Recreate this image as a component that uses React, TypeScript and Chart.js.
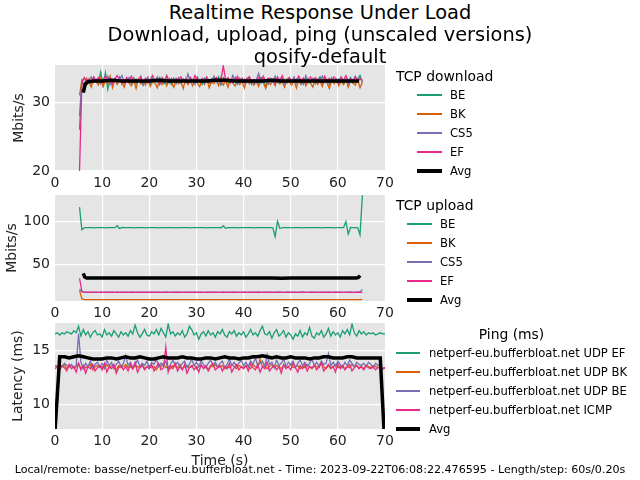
import React, { useEffect, useRef } from "react";
import { Chart, registerables } from "chart.js";
Chart.register(...registerables);

const FONT = "'DejaVu Sans', sans-serif";
const TXT = "#222222";
const COLORS = ["#1b9e77", "#d95f02", "#7570b3", "#e7298a"];
const X_TICKS = [0, 10, 20, 30, 40, 50, 60, 70];

// ---------- TCP download (Mbits/s), sampled every 0.5 s from 5.2 s ----------
const DL_START = 5.2;
const DL_STEP = 0.5;
const dlBE = [
  26.0, 33.0, 32.7, 33.4, 33.1, 32.8, 33.6, 33.2, 32.9, 34.4,
  32.5, 34.3, 31.9, 33.5, 32.8, 33.3, 33.0, 33.7, 32.6, 33.2,
  33.4, 32.9, 33.1, 33.6, 32.7, 33.3, 33.0, 32.5, 33.4, 33.2,
  32.8, 33.5, 33.1, 32.9, 33.6, 33.0, 32.7, 33.3, 33.2, 32.6,
  33.5, 33.0, 33.3, 32.8, 33.4, 33.1, 32.7, 33.6, 33.2, 32.9,
  33.3, 33.0, 32.6, 33.5, 33.1, 32.8, 33.4, 33.2, 32.9, 33.7,
  32.5, 33.1, 33.4, 32.8, 33.3, 33.0, 33.6, 32.7, 33.2, 33.4,
  32.9, 33.1, 33.5, 32.6, 33.3, 33.0, 32.8, 33.6, 33.2, 32.3,
  33.4, 33.1, 32.9, 33.5, 33.0, 32.7, 33.3, 33.2, 32.8, 33.6,
  33.1, 32.9, 33.4, 33.0, 32.6, 33.3, 33.5, 32.8, 33.1, 33.4,
  32.9, 33.2, 33.7, 32.7, 33.0, 33.3, 32.8, 33.5, 33.1, 32.9,
  33.4, 33.2, 32.6, 33.3, 33.0, 33.6, 32.8, 33.2, 33.4, 33.9,
  32.9,
];
const dlBK = [
  31.0, 33.2, 32.4, 33.5, 32.9, 32.2, 33.4, 33.0, 32.5, 33.6,
  32.3, 33.1, 32.7, 33.8, 32.1, 33.3, 32.6, 33.4, 32.9, 32.2,
  33.5, 32.8, 32.4, 33.2, 32.0, 33.4, 32.7, 33.1, 32.5, 33.6,
  32.3, 33.0, 32.8, 32.1, 33.4, 32.6, 33.2, 32.4, 33.5, 32.9,
  32.2, 33.3, 32.7, 33.0, 32.0, 33.4, 32.6, 33.1, 32.4, 33.5,
  32.8, 32.3, 33.2, 32.6, 33.4, 32.1, 33.0, 32.7, 33.3, 32.4,
  33.6, 32.5, 33.1, 32.2, 33.3, 32.8, 32.4, 33.5, 32.6, 33.0,
  32.1, 33.4, 32.7, 33.2, 32.5, 33.0, 32.3, 33.5, 32.8, 32.0,
  33.3, 32.6, 33.1, 32.4, 33.6, 32.7, 33.0, 32.2, 33.4, 32.9,
  32.5, 33.2, 32.1, 33.3, 32.7, 33.5, 32.4, 33.0, 32.8, 32.2,
  33.4, 32.6, 33.1, 32.3, 33.5, 32.8, 32.0, 33.2, 32.7, 33.3,
  32.4, 33.0, 32.6, 33.4, 32.2, 33.1, 32.8, 32.5, 33.3, 32.1,
  32.9,
];
const dlCS5 = [
  28.0, 33.1, 33.5, 32.8, 33.3, 33.7, 32.9, 33.2, 33.6, 32.7,
  33.4, 33.0, 33.8, 32.6, 33.2, 33.5, 32.9, 33.3, 33.9, 32.8,
  33.1, 33.6, 32.7, 33.4, 33.0, 33.2, 33.8, 32.5, 33.3, 33.6,
  32.9, 33.4, 33.1, 33.7, 32.6, 33.3, 33.0, 33.9, 32.8, 33.5,
  33.2, 32.7, 33.6, 33.1, 33.4, 32.9, 34.1, 33.0, 33.3, 32.6,
  33.7, 33.1, 33.4, 32.8, 33.5, 33.2, 32.9, 33.8, 33.0, 33.4,
  32.7, 33.6, 33.1, 33.3, 32.8, 33.9, 33.2, 32.6, 33.5, 33.0,
  33.4, 32.9, 33.7, 33.1, 32.7, 33.3, 34.2, 32.8, 33.4, 33.1,
  32.6, 33.5, 33.0, 33.8, 32.9, 33.3, 33.6, 32.7, 33.2, 33.5,
  33.0, 33.7, 32.8, 33.4, 33.1, 32.6, 33.9, 33.2, 33.0, 33.5,
  32.7, 33.4, 33.1, 33.8, 32.9, 33.3, 32.6, 33.6, 33.1, 33.4,
  32.8, 33.7, 33.0, 33.3, 32.7, 33.5, 33.2, 33.8, 33.0, 33.4,
  33.2,
];
const dlEF = [
  20.0, 32.9, 33.6, 33.1, 33.4, 32.8, 33.7, 33.2, 33.5, 32.9,
  33.3, 33.8, 33.0, 33.5, 32.7, 33.4, 33.9, 33.1, 33.3, 32.8,
  33.6, 33.2, 33.8, 32.9, 33.4, 33.1, 33.7, 33.0, 33.5, 32.8,
  33.3, 33.9, 33.1, 33.4, 32.7, 33.6, 33.2, 33.8, 33.0, 33.4,
  32.9, 33.5, 33.2, 33.7, 33.0, 33.4, 32.8, 33.6, 33.1, 33.9,
  33.3, 32.9, 33.5, 33.2, 33.7, 32.8, 33.4, 33.1, 33.6, 33.0,
  33.3, 35.3, 33.2, 33.6, 32.9, 33.4, 33.1, 33.8, 33.0, 33.5,
  32.8, 33.4, 33.7, 33.1, 33.3, 32.9, 33.6, 33.2, 33.8, 33.0,
  33.5, 33.1, 33.4, 32.7, 33.7, 33.2, 33.9, 33.0, 33.3, 33.6,
  32.9, 33.4, 33.1, 33.8, 33.2, 33.5, 32.8, 33.3, 33.7, 33.0,
  33.6, 33.2, 33.4, 32.9, 33.8, 33.1, 33.5, 33.0, 33.7, 33.3,
  32.8, 33.6, 33.2, 33.9, 33.1, 33.4, 33.0, 33.7, 33.2, 33.5,
  33.1,
];
const dlAvgTime = [
  6.0, 6.4, 7.0,
  8, 10, 12, 14, 16, 18, 20, 22, 24, 26, 28, 30, 32, 34, 36,
  38, 40, 42, 44, 46, 48, 50, 52, 54, 56, 58, 60, 62, 64,
  64.5,
];
const dlAvg = [
  31.4, 32.6, 33.0,
  33.1, 33.1, 33.2, 33.1, 33.1, 33.1, 33.1, 33.2, 33.1, 33.1, 33.1, 33.1, 33.1, 33.2, 33.2,
  33.1, 33.1, 33.1, 33.1, 33.2, 33.1, 33.1, 33.1, 33.1, 33.1, 33.1, 33.1, 33.1, 33.1,
  33.1,
];
const dlYTicks = [20, 30];

// ---------- TCP upload (Mbits/s), sampled every 0.5 s from 5.2 s ----------
const UL_START = 5.2;
const UL_STEP = 0.5;
const ulBE = [
  117.0, 90.5, 92.8, 93.0, 92.9, 93.1, 92.8, 93.0, 93.1, 92.9,
  93.0, 92.8, 93.1, 93.0, 92.9, 93.0, 95.2, 91.8, 93.2, 93.0,
  92.9, 93.1, 93.0, 92.8, 93.0, 93.1, 92.9, 93.0, 92.8, 93.1,
  93.0, 92.9, 93.0, 93.1, 92.8, 93.0, 92.9, 93.1, 93.0, 92.9,
  93.0, 92.8, 93.1, 93.0, 92.9, 93.0, 93.1, 92.8, 93.0, 92.9,
  93.1, 93.0, 92.9, 93.0, 92.8, 93.1, 93.0, 92.9, 93.0, 93.1,
  92.9, 95.0, 92.2, 93.0, 92.9, 93.1, 93.0, 92.8, 93.0, 92.9,
  93.1, 93.0, 92.9, 93.0, 92.8, 93.1, 93.0, 92.9, 93.0, 93.1,
  92.9, 93.0, 92.8, 82.5, 100.5, 92.0, 93.0, 92.9, 93.1, 93.0,
  92.8, 93.0, 93.1, 92.9, 93.0, 92.8, 93.1, 93.0, 92.9, 93.0,
  93.1, 92.9, 93.0, 92.8, 93.0, 93.1, 92.9, 93.0, 92.8, 93.1,
  93.0, 92.9, 93.0, 100.2, 85.5, 93.1, 92.9, 93.0, 92.8, 84.6,
  131.0,
];
const ulBK = [
  19.0, 9.6, 8.6, 8.4, 8.5, 8.4, 8.4, 8.5, 8.4, 8.4,
  8.5, 8.4, 8.4, 8.5, 8.4, 8.5, 8.4, 8.4, 8.5, 8.4,
  8.4, 8.5, 8.4, 8.4, 8.5, 8.4, 8.4, 8.5, 8.4, 8.5,
  8.4, 8.4, 8.5, 8.4, 8.4, 8.5, 8.4, 8.5, 8.4, 8.4,
  8.5, 8.4, 8.4, 8.5, 8.4, 8.4, 8.5, 8.4, 8.5, 8.4,
  8.4, 8.5, 8.4, 8.4, 8.5, 8.4, 8.5, 8.4, 8.4, 8.5,
  8.4, 8.4, 8.5, 8.4, 8.5, 8.4, 8.4, 8.5, 8.4, 8.4,
  8.5, 8.4, 8.4, 8.5, 8.4, 8.5, 8.4, 8.4, 8.5, 8.4,
  8.4, 8.5, 8.4, 8.4, 8.5, 8.4, 8.5, 8.4, 8.4, 8.5,
  8.4, 8.4, 8.5, 8.4, 8.5, 8.4, 8.4, 8.5, 8.4, 8.4,
  8.5, 8.4, 8.4, 8.5, 8.4, 8.5, 8.4, 8.4, 8.5, 8.4,
  8.4, 8.5, 8.4, 8.4, 8.5, 8.4, 8.5, 8.4, 8.4, 8.5,
  8.7,
];
const ulCS5 = [
  21.0, 17.6, 17.2, 17.1, 17.3, 17.1, 17.0, 17.2, 17.1, 17.3,
  17.0, 17.2, 17.1, 17.3, 17.1, 17.0, 17.2, 17.1, 17.3, 17.2,
  17.0, 17.1, 17.3, 17.2, 17.0, 17.1, 17.2, 17.3, 17.1, 17.0,
  17.2, 17.1, 17.3, 17.0, 17.2, 17.1, 17.1, 17.3, 17.0, 17.2,
  17.1, 17.3, 17.2, 17.0, 17.1, 17.2, 17.3, 17.1, 17.0, 17.2,
  17.1, 17.3, 17.1, 17.0, 17.2, 17.1, 17.3, 17.2, 17.0, 17.1,
  17.2, 17.4, 17.1, 17.0, 17.2, 17.1, 17.3, 17.0, 17.2, 17.1,
  17.3, 17.1, 17.0, 17.2, 17.1, 17.3, 17.2, 17.0, 17.1, 17.2,
  17.3, 17.1, 17.0, 17.2, 17.1, 17.3, 17.1, 17.0, 17.2, 17.1,
  17.3, 17.2, 17.0, 17.1, 17.2, 17.3, 17.1, 17.0, 17.2, 17.1,
  17.3, 17.1, 17.0, 17.2, 17.1, 17.3, 17.2, 17.0, 17.1, 17.2,
  17.3, 17.1, 17.0, 17.2, 17.1, 17.3, 17.1, 17.2, 17.4, 17.6,
  20.5,
];
const ulEF = [
  33.5, 18.5, 17.4, 17.2, 17.0, 17.3, 17.1, 17.2, 17.0, 17.3,
  17.1, 17.2, 17.3, 17.0, 17.2, 17.1, 17.4, 17.0, 17.2, 17.1,
  17.3, 17.0, 17.2, 17.1, 17.3, 17.2, 17.0, 17.1, 17.3, 17.2,
  17.0, 17.2, 17.1, 17.3, 17.1, 17.0, 17.2, 17.3, 17.1, 17.0,
  17.2, 17.1, 17.3, 17.1, 17.2, 17.0, 17.1, 17.3, 17.2, 17.0,
  17.2, 17.1, 17.3, 17.0, 17.1, 17.2, 17.1, 17.3, 17.2, 17.0,
  17.1, 17.3, 17.0, 17.2, 17.1, 17.3, 17.2, 17.0, 17.1, 17.2,
  17.4, 17.1, 17.2, 17.0, 17.3, 17.1, 17.2, 17.0, 17.2, 17.1,
  17.3, 17.2, 17.0, 17.1, 17.3, 17.2, 17.1, 17.0, 17.2, 17.3,
  17.1, 17.0, 17.2, 17.1, 17.3, 17.2, 17.0, 17.1, 17.2, 17.3,
  17.1, 17.0, 17.2, 17.1, 17.3, 17.1, 17.2, 17.0, 17.2, 17.1,
  17.3, 17.2, 17.0, 17.1, 17.2, 17.3, 17.1, 17.0, 17.2, 17.1,
  17.3,
];
const ulAvgTime = [
  6.0, 6.3, 6.7,
  8, 10, 12, 14, 16, 18, 20, 22, 24, 26, 28, 30, 32, 34, 36,
  38, 40, 42, 44, 46, 48, 50, 52, 54, 56, 58, 60, 62, 64,
  64.4, 64.7,
];
const ulAvg = [
  39.4, 35.0, 33.9,
  33.8, 33.8, 33.8, 33.9, 33.8, 33.8, 33.8, 33.8, 33.8, 33.8, 33.8, 33.8, 33.8, 33.8, 33.9,
  33.8, 33.8, 33.8, 33.8, 33.8, 33.6, 34.0, 33.8, 33.8, 33.8, 33.8, 33.8, 33.9, 33.8,
  34.6, 36.8,
];
const ulYTicks = [50, 100];

// ---------- Ping (ms), sampled every 0.5 s from 0 s ----------
const PING_START = 0;
const PING_STEP = 0.5;
const pingUdpEF = [
  16.5, 16.6, 16.4, 16.6, 16.5, 16.7, 16.6, 16.5, 16.8, 16.6,
  17.2, 16.3, 16.9, 16.4, 16.7, 16.2, 16.6, 16.8, 16.4, 16.5,
  16.2, 16.9, 16.4, 16.6, 16.3, 16.8, 16.5, 16.2, 16.7, 16.4,
  16.6, 16.3, 16.8, 16.5, 17.3, 16.6, 16.2, 16.5, 16.9, 16.4,
  16.3, 16.7, 16.5, 16.9, 16.4, 17.0, 16.6, 16.2, 17.4, 16.5,
  16.7, 16.3, 16.6, 16.4, 16.8, 16.2, 16.5, 17.2, 16.9, 16.4,
  16.6, 16.0, 16.5, 16.7, 16.3, 16.8, 16.4, 16.6, 16.2, 16.7,
  16.5, 16.9, 16.4, 16.2, 16.7, 16.5, 16.8, 16.3, 16.6, 16.4,
  16.7, 16.2, 16.5, 16.9, 16.4, 16.6, 16.3, 16.8, 17.2, 16.5,
  16.4, 16.7, 16.1, 16.6, 16.9, 16.3, 16.5, 16.8, 16.2, 16.6,
  16.4, 16.0, 16.5, 16.3, 16.8, 16.2, 16.6, 16.4, 17.1, 16.3,
  16.1, 16.6, 16.4, 16.8, 16.2, 16.5, 17.0, 16.3, 16.7, 16.4,
  16.6, 16.2, 16.8, 16.5, 16.9, 16.4, 17.4, 16.6, 16.3, 16.8,
  16.5, 16.7, 16.4, 16.6, 16.5, 16.6, 16.4, 16.5, 16.6, 16.5,
  16.5,
];
const pingUdpBK = [
  13.5, 13.6, 13.4, 13.5, 13.7, 13.3, 13.5, 13.6, 13.4, 13.5,
  13.8, 13.3, 13.6, 13.4, 13.5, 13.7, 13.2, 13.5, 13.6, 13.4,
  13.5, 13.3, 13.7, 13.4, 13.6, 13.5, 13.2, 13.6, 13.4, 13.5,
  13.7, 13.4, 13.5, 13.3, 13.6, 13.5, 13.4, 13.7, 13.3, 13.5,
  13.6, 13.4, 13.5, 13.2, 13.6, 13.5, 13.8, 13.4, 13.5, 13.3,
  13.6, 13.5, 13.4, 13.7, 13.3, 13.5, 13.6, 13.4, 13.5, 13.7,
  13.3, 13.5, 13.6, 13.4, 13.5, 13.2, 13.6, 13.5, 13.7, 13.4,
  13.5, 13.6, 13.3, 13.5, 13.4, 13.7, 13.5, 13.3, 13.6, 13.5,
  13.4, 13.6, 13.5, 13.3, 13.7, 13.5, 13.4, 14.2, 13.5, 13.6,
  13.3, 13.5, 13.7, 13.4, 13.6, 13.5, 13.3, 13.6, 13.4, 13.5,
  13.7, 13.4, 13.5, 13.6, 13.3, 13.5, 13.4, 13.7, 13.5, 13.3,
  13.6, 13.5, 13.4, 13.8, 13.5, 13.3, 13.6, 13.4, 13.5, 13.7,
  13.4, 13.5, 13.6, 13.3, 13.5, 13.4, 13.7, 13.5, 13.6, 13.4,
  13.5, 13.3, 13.6, 13.5, 13.4, 13.6, 13.5, 13.4, 13.5, 13.3,
  13.4,
];
const pingUdpBE = [
  13.6, 13.4, 13.7, 13.5, 13.8, 13.6, 13.5, 13.7, 13.4, 13.6,
  16.5, 13.9, 13.3, 13.8, 13.5, 14.0, 13.4, 13.7, 13.9, 13.5,
  13.8, 13.4, 14.1, 13.6, 13.9, 13.3, 13.7, 14.0, 13.5, 13.8,
  14.5, 13.6, 13.9, 13.4, 13.7, 14.1, 13.5, 13.8, 13.6, 14.0,
  13.4, 13.9, 13.7, 14.2, 13.5, 13.8, 13.6, 14.0, 13.3, 13.7,
  14.1, 13.6, 13.9, 13.5, 13.8, 14.0, 13.4, 13.7, 14.2, 13.6,
  13.9, 13.5, 14.0, 13.7, 13.4, 13.8, 14.1, 13.6, 13.9, 13.5,
  13.8, 14.0, 13.4, 13.7, 14.2, 13.6, 13.9, 13.5, 13.8, 14.1,
  13.6, 13.9, 13.5, 14.0, 13.7, 14.3, 13.6, 13.8, 14.0, 13.5,
  14.6, 13.7, 13.9, 13.4, 14.1, 13.6, 13.8, 14.2, 13.5, 13.9,
  13.7, 14.0, 13.4, 13.8, 14.1, 13.6, 13.9, 13.5, 13.8, 14.2,
  13.6, 13.9, 13.5, 14.0, 13.7, 13.8, 14.7, 13.6, 13.9, 13.5,
  14.0, 13.7, 13.4, 13.9, 13.6, 14.1, 13.8, 13.5, 13.9, 13.7,
  13.6, 13.8, 13.5, 13.9, 13.7, 13.4, 13.8, 13.6, 13.7, 13.3,
  13.4,
];
const pingICMP = [
  13.3, 13.5, 13.2, 13.6, 13.4, 13.1, 13.7, 13.3, 13.5, 13.0,
  13.8, 13.2, 13.6, 12.9, 13.5, 13.3, 13.7, 13.1, 13.4, 13.6,
  13.2, 13.8, 13.0, 13.5, 13.3, 13.7, 12.9, 13.4, 13.6, 13.2,
  13.5, 13.1, 13.7, 13.3, 13.9, 13.0, 13.4, 13.6, 13.2, 13.5,
  13.3, 13.7, 13.1, 13.5, 13.8, 13.2, 13.4, 15.3, 13.0, 13.6,
  13.3, 13.8, 13.1, 13.5, 13.2, 13.7, 12.9, 13.4, 13.6, 13.2,
  13.5, 13.0, 13.7, 13.3, 13.6, 13.1, 13.5, 13.8, 13.2, 13.4,
  13.6, 13.1, 13.5, 13.3, 13.8, 13.0, 13.4, 13.7, 13.2, 13.5,
  13.3, 13.6, 13.1, 13.8, 13.4, 13.2, 13.7, 13.0, 13.5, 13.3,
  13.9, 13.1, 13.4, 13.6, 13.2, 13.5, 12.9, 13.7, 13.3, 13.5,
  13.2, 13.8, 13.4, 13.0, 13.6, 13.3, 13.7, 13.1, 13.5, 13.4,
  13.6, 13.2, 13.5, 13.9, 13.1, 13.4, 13.7, 13.3, 13.5, 13.0,
  13.8, 13.3, 13.6, 13.2, 13.5, 13.7, 13.1, 13.4, 13.6, 13.3,
  13.5, 13.2, 13.6, 13.4, 13.3, 13.5, 13.2, 13.4, 13.5, 13.3,
  13.4,
];
const pingAvgTime = [
  0, 1, 2, 3, 4, 5, 6, 7, 8, 9, 10, 11, 12, 13, 14, 15, 16, 17, 18, 19,
  20, 21, 22, 23, 24, 25, 26, 27, 28, 29, 30, 31, 32, 33, 34, 35, 36, 37, 38, 39,
  40, 41, 42, 43, 44, 45, 46, 47, 48, 49, 50, 51, 52, 53, 54, 55, 56, 57, 58, 59,
  60, 61, 62, 63, 64, 65, 66, 67, 68, 69, 69.8,
];
const pingAvg = [
  7.6,
  14.4, 14.4, 14.3, 14.4, 14.5, 14.4, 14.3, 14.2, 14.2, 14.2,
  14.3, 14.3, 14.2, 14.3, 14.4, 14.3, 14.3, 14.4, 14.3, 14.2,
  14.2, 14.3, 14.4, 14.3, 14.3, 14.3, 14.4, 14.3, 14.3, 14.2,
  14.2, 14.3, 14.3, 14.2, 14.3, 14.4, 14.3, 14.3, 14.2, 14.3,
  14.3, 14.4, 14.4, 14.5, 14.4, 14.3, 14.4, 14.3, 14.3, 14.4,
  14.3, 14.3, 14.3, 14.2, 14.3, 14.3, 14.4, 14.4, 14.3, 14.3,
  14.3, 14.4, 14.4, 14.3, 14.3, 14.3, 14.3, 14.3, 14.3,
  7.6,
];
const pingYTicks = [10, 15];

const dlLabels = ["BE", "BK", "CS5", "EF", "Avg"];
const ulLabels = ["BE", "BK", "CS5", "EF", "Avg"];
const pingLabels = [
  "netperf-eu.bufferbloat.net UDP EF",
  "netperf-eu.bufferbloat.net UDP BK",
  "netperf-eu.bufferbloat.net UDP BE",
  "netperf-eu.bufferbloat.net ICMP",
  "Avg",
];

// ---------- helpers ----------
const stepped = (start: number, step: number, vals: number[]) =>
  vals.map((v, i) => ({ x: Math.round((start + i * step) * 100) / 100, y: v }));
const paired = (ts: number[], vals: number[]) => ts.map((t, i) => ({ x: t, y: vals[i] }));

const lineDs = (label: string, data: any[], color: string, order: number, width = 1.3) => ({
  label,
  data,
  borderColor: color,
  backgroundColor: color,
  borderWidth: width,
  pointRadius: 0,
  tension: 0,
  fill: false,
  order,
});

const bgPlugin = {
  id: "plotBg",
  beforeDraw(chart: any) {
    const { ctx, chartArea } = chart;
    if (!chartArea) return;
    ctx.save();
    ctx.fillStyle = "#e5e5e5";
    ctx.fillRect(chartArea.left, chartArea.top, chartArea.right - chartArea.left, chartArea.bottom - chartArea.top);
    ctx.restore();
  },
};

type PlotCfg = {
  top: number;
  height: number;
  padTop: number;
  xAxisH: number;
  yMin: number;
  yMax: number;
  yTicks: number[];
  yTitle: string;
  yTitlePad: number;
  xTitle?: string;
  datasets: any[];
};

function makeOptions(p: PlotCfg): any {
  return {
    animation: false,
    responsive: false,
    maintainAspectRatio: false,
    events: [],
    layout: { padding: { left: 0, right: 255, top: p.padTop, bottom: 0 } },
    plugins: { legend: { display: false }, tooltip: { enabled: false }, title: { display: false } },
    scales: {
      x: {
        type: "linear",
        min: 0,
        max: 70,
        afterBuildTicks: (ax: any) => {
          ax.ticks = X_TICKS.map((v) => ({ value: v }));
        },
        afterFit: (ax: any) => {
          ax.height = p.xAxisH;
          ax.paddingLeft = 0;
          ax.paddingRight = 0;
          ax.paddingTop = 0;
          ax.paddingBottom = 0;
        },
        grid: {
          drawTicks: false,
          lineWidth: 1.2,
          color: (c: any) => (c.tick && (c.tick.value === 0 || c.tick.value === 70) ? "rgba(0,0,0,0)" : "#ffffff"),
        },
        border: { display: false },
        ticks: { padding: 4, color: TXT, font: { family: FONT, size: 14 }, maxRotation: 0, autoSkip: false },
        title: p.xTitle
          ? { display: true, text: p.xTitle, color: TXT, font: { family: FONT, size: 14 }, padding: { top: 0, bottom: 10.6 } }
          : { display: false },
      },
      y: {
        type: "linear",
        min: p.yMin,
        max: p.yMax,
        afterBuildTicks: (ax: any) => {
          ax.ticks = p.yTicks.map((v) => ({ value: v }));
        },
        afterFit: (ax: any) => {
          ax.width = 55;
          ax.paddingTop = 0;
          ax.paddingBottom = 0;
          ax.paddingLeft = 0;
          ax.paddingRight = 0;
        },
        grid: { drawTicks: false, lineWidth: 1.2, color: "#ffffff" },
        border: { display: false },
        ticks: { padding: 5, color: TXT, font: { family: FONT, size: 14 } },
        title: {
          display: true,
          text: p.yTitle,
          color: TXT,
          font: { family: FONT, size: 14 },
          padding: { top: p.yTitlePad, bottom: 0 },
        },
      },
    },
  };
}

const plots: PlotCfg[] = [
  {
    top: 60,
    height: 140,
    padTop: 5,
    xAxisH: 29,
    yMin: 20,
    yMax: 35.43,
    yTicks: dlYTicks,
    yTitle: "Mbits/s",
    yTitlePad: 10.6,
    datasets: [
      lineDs(dlLabels[4], paired(dlAvgTime, dlAvg), "#000000", 1, 3.5),
      lineDs(dlLabels[3], stepped(DL_START, DL_STEP, dlEF), COLORS[3], 2),
      lineDs(dlLabels[2], stepped(DL_START, DL_STEP, dlCS5), COLORS[2], 3),
      lineDs(dlLabels[1], stepped(DL_START, DL_STEP, dlBK), COLORS[1], 4),
      lineDs(dlLabels[0], stepped(DL_START, DL_STEP, dlBE), COLORS[0], 5),
    ],
  },
  {
    top: 190,
    height: 135,
    padTop: 5,
    xAxisH: 24,
    yMin: 6.9,
    yMax: 131.3,
    yTicks: ulYTicks,
    yTitle: "Mbits/s",
    yTitlePad: 3.6,
    datasets: [
      lineDs(ulLabels[4], paired(ulAvgTime, ulAvg), "#000000", 1, 3.5),
      lineDs(ulLabels[3], stepped(UL_START, UL_STEP, ulEF), COLORS[3], 2),
      lineDs(ulLabels[2], stepped(UL_START, UL_STEP, ulCS5), COLORS[2], 3),
      lineDs(ulLabels[1], stepped(UL_START, UL_STEP, ulBK), COLORS[1], 4),
      lineDs(ulLabels[0], stepped(UL_START, UL_STEP, ulBE), COLORS[0], 5),
    ],
  },
  {
    top: 318,
    height: 162,
    padTop: 5,
    xAxisH: 51,
    yMin: 7.78,
    yMax: 17.5,
    yTicks: pingYTicks,
    yTitle: "Latency (ms)",
    yTitlePad: 9.9,
    xTitle: "Time (s)",
    datasets: [
      lineDs(pingLabels[4], paired(pingAvgTime, pingAvg), "#000000", 1, 3.5),
      lineDs(pingLabels[3], stepped(PING_START, PING_STEP, pingICMP), COLORS[3], 2),
      lineDs(pingLabels[2], stepped(PING_START, PING_STEP, pingUdpBE), COLORS[2], 3),
      lineDs(pingLabels[1], stepped(PING_START, PING_STEP, pingUdpBK), COLORS[1], 4),
      lineDs(pingLabels[0], stepped(PING_START, PING_STEP, pingUdpEF), COLORS[0], 5),
    ],
  },
];

type LegendCfg = {
  title: string;
  titleX: number;
  titleY: number;
  titleCentered?: boolean;
  labels: string[];
  lineX1: number;
  lineX2: number;
  textX: number;
  rowsY: number[];
};

const legends: LegendCfg[] = [
  {
    title: "TCP download",
    titleX: 396,
    titleY: 75.5,
    labels: dlLabels,
    lineX1: 417,
    lineX2: 442,
    textX: 450,
    rowsY: [95, 114, 133, 152, 171],
  },
  {
    title: "TCP upload",
    titleX: 396,
    titleY: 204.5,
    labels: ulLabels,
    lineX1: 407,
    lineX2: 432,
    textX: 440,
    rowsY: [224, 243, 262, 281, 300],
  },
  {
    title: "Ping (ms)",
    titleX: 511.5,
    titleY: 334,
    titleCentered: true,
    labels: pingLabels,
    lineX1: 396,
    lineX2: 420,
    textX: 429,
    rowsY: [353, 372, 391, 410, 429],
  },
];

const LEGEND_COLORS = [COLORS[0], COLORS[1], COLORS[2], COLORS[3], "#000000"];

function TextAt(props: { x: number; y: number; size: number; text: string; align?: "left" | "center"; color?: string }) {
  const h = 30;
  const style: React.CSSProperties = {
    position: "absolute",
    top: props.y - h / 2,
    height: h,
    lineHeight: h + "px",
    fontSize: props.size,
    fontFamily: FONT,
    color: props.color || "#000",
    whiteSpace: "nowrap",
  };
  if (props.align === "center") {
    style.left = props.x - 400;
    style.width = 800;
    style.textAlign = "center";
  } else {
    style.left = props.x;
  }
  return <div style={style}>{props.text}</div>;
}

function Legend({ cfg }: { cfg: LegendCfg }) {
  return (
    <>
      <TextAt x={cfg.titleX} y={cfg.titleY} size={13.9} text={cfg.title} align={cfg.titleCentered ? "center" : "left"} />
      {cfg.labels.map((lab, i) => {
        const w = i === 4 ? 4 : 2;
        return (
          <React.Fragment key={lab}>
            <div
              style={{
                position: "absolute",
                left: cfg.lineX1,
                width: cfg.lineX2 - cfg.lineX1,
                top: Math.round(cfg.rowsY[i] - w / 2),
                height: w,
                background: LEGEND_COLORS[i],
              }}
            />
            <TextAt x={cfg.textX} y={cfg.rowsY[i]} size={11.6} text={lab} />
          </React.Fragment>
        );
      })}
    </>
  );
}

export default function App() {
  const refs = [useRef<HTMLCanvasElement>(null), useRef<HTMLCanvasElement>(null), useRef<HTMLCanvasElement>(null)];

  useEffect(() => {
    const charts = plots.map((p, i) => {
      const cv = refs[i].current!;
      return new Chart(cv, {
        type: "line",
        data: { datasets: p.datasets },
        options: makeOptions(p),
        plugins: [bgPlugin],
      } as any);
    });
    return () => charts.forEach((c) => c.destroy());
  }, []);

  return (
    <div style={{ position: "absolute", left: 0, top: 0, width: 640, height: 480, background: "#fff", overflow: "hidden" }}>
      {plots.map((p, i) => (
        <canvas
          key={i}
          ref={refs[i]}
          width={640}
          height={p.height}
          style={{ position: "absolute", left: 0, top: p.top, width: 640, height: p.height }}
        />
      ))}
      <TextAt x={320} y={13} size={19.4} text="Realtime Response Under Load" align="center" />
      <TextAt x={320} y={35} size={19.4} text="Download, upload, ping (unscaled versions)" align="center" />
      <TextAt x={320} y={57} size={19.4} text="qosify-default" align="center" />
      {legends.map((l, i) => (
        <Legend key={i} cfg={l} />
      ))}
      <TextAt
        x={320}
        y={470}
        size={11.1}
        text="Local/remote: basse/netperf-eu.bufferbloat.net - Time: 2023-09-22T06:08:22.476595 - Length/step: 60s/0.20s"
        align="center"
      />
    </div>
  );
}
